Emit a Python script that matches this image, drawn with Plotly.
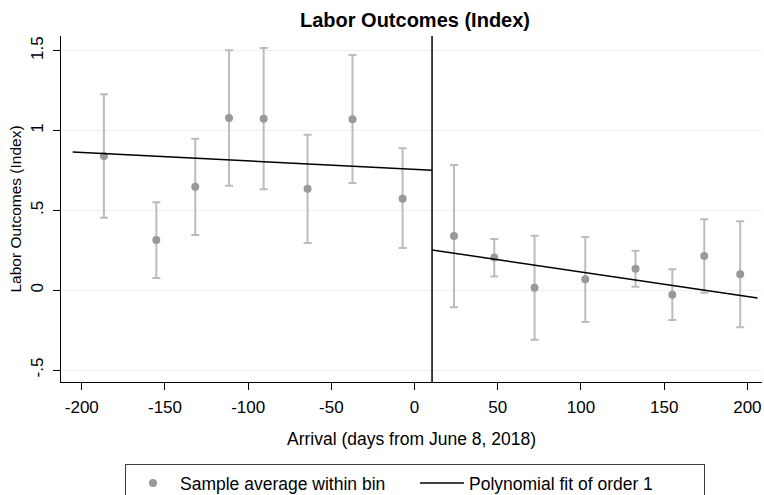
import plotly.graph_objects as go

# ---- data ----
bin_x = [-186.7, -155.2, -131.8, -111.5, -90.7, -64.3, -37.3, -7.2,
         23.7, 47.9, 72.1, 102.6, 132.8, 154.9, 174.1, 195.7]
bin_mean = [0.840, 0.314, 0.648, 1.078, 1.074, 0.636, 1.070, 0.573,
            0.339, 0.204, 0.016, 0.068, 0.135, -0.028, 0.214, 0.100]
ci_low = [0.454, 0.076, 0.346, 0.654, 0.632, 0.296, 0.671, 0.264,
          -0.107, 0.085, -0.310, -0.199, 0.022, -0.187, -0.016, -0.232]
ci_high = [1.227, 0.550, 0.949, 1.502, 1.517, 0.974, 1.473, 0.889,
           0.784, 0.321, 0.341, 0.333, 0.247, 0.131, 0.444, 0.431]

fit_left_x = [-205.5, 10.5]
fit_left_y = [0.865, 0.751]
fit_right_x = [10.5, 206.1]
fit_right_y = [0.252, -0.049]

cutoff = 10.5

x_ticks = [-200, -150, -100, -50, 0, 50, 100, 150, 200]
x_tick_labels = ["-200", "-150", "-100", "-50", "0", "50", "100", "150", "200"]
y_ticks = [-0.5, 0, 0.5, 1, 1.5]
y_tick_labels = ["-.5", "0", ".5", "1", "1.5"]

FONT = "Liberation Sans, Arial, Helvetica, sans-serif"
MARK = "rgb(153,153,153)"
BAR = "rgb(188,188,188)"

err_plus = [h - m for h, m in zip(ci_high, bin_mean)]
err_minus = [m - l for m, l in zip(bin_mean, ci_low)]

fig = go.Figure()
fig.add_trace(go.Scatter(
    x=bin_x, y=bin_mean, mode="markers",
    marker=dict(color=MARK, size=8),
    error_y=dict(type="data", symmetric=False, array=err_plus,
                 arrayminus=err_minus, color=BAR, thickness=2, width=4),
    name="Sample average within bin", showlegend=True,
))
fig.add_trace(go.Scatter(
    x=fit_left_x, y=fit_left_y, mode="lines",
    line=dict(color="black", width=1.5),
    name="Polynomial fit of order 1", showlegend=True,
))
fig.add_trace(go.Scatter(
    x=fit_right_x, y=fit_right_y, mode="lines",
    line=dict(color="black", width=1.5),
    name="Polynomial fit of order 1", showlegend=False,
))

fig.add_vline(x=cutoff, line=dict(color="black", width=1.5))

fig.update_layout(
    width=764, height=495,
    margin=dict(l=61, r=2, t=36, b=113, autoexpand=False),
    paper_bgcolor="white", plot_bgcolor="white",
    font=dict(family=FONT, color="black", size=16),
    title=dict(text="<b>Labor Outcomes (Index)</b>", x=0.505, xref="paper",
               xanchor="center", y=1 - 20 / 495, yref="container", yanchor="middle",
               font=dict(size=20, family=FONT, color="black")),
    legend=dict(orientation="h", x=0.505, xref="paper", xanchor="center",
                y=-0.237, yanchor="top", bordercolor="rgb(60,60,60)",
                borderwidth=1, font=dict(size=17.5, family=FONT),
                itemwidth=44, entrywidth=230, traceorder="normal"),
    showlegend=True,
)
fig.update_xaxes(
    range=[-212.5, 208.8], tickvals=x_ticks, ticktext=x_tick_labels,
    ticks="outside", ticklen=7, tickcolor="black", tickwidth=1,
    showline=True, linecolor="black", linewidth=1,
    showgrid=False, zeroline=False, automargin=False,
    tickfont=dict(size=17), ticklabelstandoff=3,
    title=dict(text="Arrival (days from June 8, 2018)", font=dict(size=17.5), standoff=16),
)
fig.update_yaxes(
    range=[-0.575, 1.592], tickvals=y_ticks, ticktext=y_tick_labels,
    tickangle=-90,
    ticks="outside", ticklen=7, tickcolor="black", tickwidth=1,
    showline=True, linecolor="black", linewidth=1,
    showgrid=True, gridcolor="rgb(234,242,243)", gridwidth=1,
    zeroline=False, automargin=False,
    tickfont=dict(size=17), ticklabelstandoff=3,
    title=dict(text="Labor Outcomes (Index)", font=dict(size=15.5), standoff=2),
)

fig.write_html("out.html", config={"displayModeBar": False},
               post_script="document.body.style.margin='0px';")
